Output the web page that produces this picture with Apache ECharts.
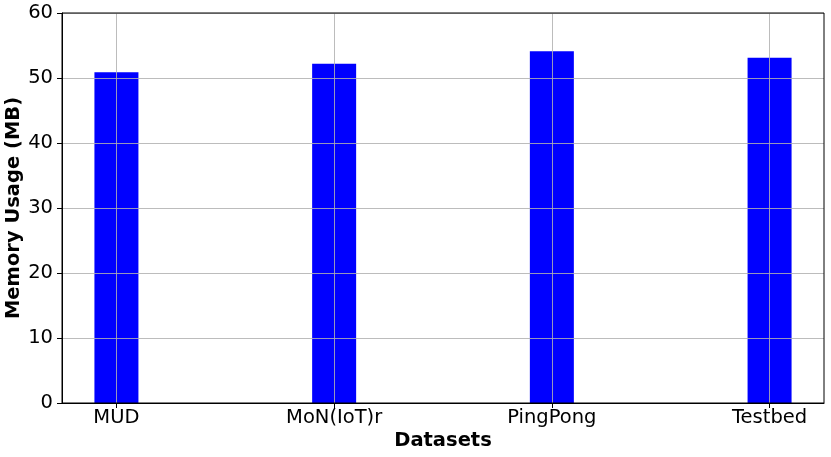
<!DOCTYPE html>
<html><head><meta charset="utf-8">
<script src="https://cdn.jsdelivr.net/npm/echarts@6/dist/echarts.min.js"></script>
<style>html,body{margin:0;padding:0;background:#fff}#c{width:831px;height:457px}</style>
</head><body><div id="c"></div>
<script>
const categories = ['MUD', 'MoN(IoT)r', 'PingPong', 'Testbed'];
const memoryMB = [50.9, 52.2, 54.1, 53.1];
const yTicks = [0, 10, 20, 30, 40, 50, 60];

const chart = echarts.init(document.getElementById('c'), null, {renderer: 'canvas'});
const font = 'DejaVu Sans';
const gridColor = 'rgba(176,176,176,0.85)';
chart.setOption({
  animation: false,
  backgroundColor: '#fff',
  grid: {left: 62, right: 7, top: 13, bottom: 54, show: true, borderColor: '#000', borderWidth: 1, z: 4,
         outerBoundsMode: 'none', containLabel: false},
  xAxis: {
    type: 'value', min: -0.25, max: 3.25, interval: 1, z: 3,
    name: 'Datasets', nameLocation: 'middle', nameGap: 28, nameMoveOverlap: false,
    nameTextStyle: {fontFamily: font, fontSize: 19.5, fontWeight: 'bold', color: '#000'},
    axisLine: {show: true, onZero: false, lineStyle: {color: '#000'}},
    axisTick: {show: true, length: 5, lineStyle: {color: '#000'}, customValues: [0, 1, 2, 3]},
    axisLabel: {fontFamily: font, fontSize: 19.5, color: '#000', margin: 5, customValues: [0, 1, 2, 3],
      formatter: v => categories[v] !== undefined ? categories[v] : ''},
    splitLine: {show: true, lineStyle: {color: gridColor, width: 1}}
  },
  yAxis: {
    type: 'value', min: 0, max: 60, interval: 10, z: 3,
    name: 'Memory Usage (MB)', nameLocation: 'middle', nameGap: 38, nameRotate: 90, nameMoveOverlap: false,
    nameTextStyle: {fontFamily: font, fontSize: 19.5, fontWeight: 'bold', color: '#000'},
    axisLine: {show: true, onZero: false, lineStyle: {color: '#000'}},
    axisTick: {show: true, length: 5, lineStyle: {color: '#000'}},
    axisLabel: {fontFamily: font, fontSize: 19.5, color: '#000', margin: 9,
      formatter: v => yTicks.includes(v) ? String(v) : ''},
    splitLine: {show: true, lineStyle: {color: gridColor, width: 1}}
  },
  series: [{
    type: 'bar', barWidth: 44,
    itemStyle: {color: '#0000ff'},
    z: 1,
    data: memoryMB.map((v, i) => [i, v])
  }]
});
</script></body></html>
